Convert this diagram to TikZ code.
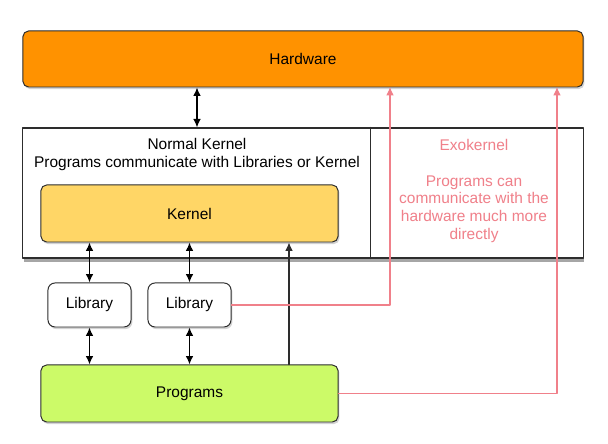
\documentclass[tikz,border=0pt]{standalone}
\usepackage{fontspec}
\setmainfont{Liberation Sans}
\usetikzlibrary{arrows.meta,shadows}
\definecolor{hwfill}{RGB}{255,146,0}
\definecolor{kernfill}{RGB}{255,214,102}
\definecolor{progfill}{RGB}{204,250,104}
\definecolor{boxline}{RGB}{45,45,45}
\definecolor{exopink}{RGB}{240,128,138}
\tikzset{
    lab/.style={
        font=\fontsize{11}{12.75}\selectfont
    }
}

\begin{document}
\begin{tikzpicture}[x=0.025cm,y=0.025cm, line cap=round, line join=round]

\tikzset{
  blk/.style={lab, draw=boxline, line width=0.7pt, rounded corners=4pt, inner sep=0pt,
    drop shadow={shadow xshift=1pt, shadow yshift=-1.5pt, opacity=0.35}},
  libbox/.style={blk, fill=white, rounded corners=5pt, minimum width=2.075cm, minimum height=1.1cm},
  wide/.style={minimum width=7.425cm, minimum height=1.425cm},
  dbl/.style={{Latex[length=6pt,width=5.5pt]}-{Latex[length=6pt,width=5.5pt]}, line width=1pt},
  one/.style={-{Latex[length=6pt,width=5.5pt]}, line width=0.8pt, draw=boxline},
  exo/.style={-{Latex[length=6pt,width=5.5pt]}, line width=0.8pt, draw=exopink},
}

\useasboundingbox (0,0) rectangle (608,444);

% boxes
\node[blk, fill=hwfill, minimum width=14cm, minimum height=1.4cm] (hw) at (303,385) {Hardware};
\node[lab, draw=boxline, fill=white, line width=0.8pt, minimum width=14cm, minimum height=3.25cm, inner sep=0pt,
  drop shadow={shadow xshift=1pt, shadow yshift=-2.5pt, opacity=0.7}] (os) at (303,251) {};
\draw[boxline, line width=0.7pt] (370,0 |- os.north) -- (370,0 |- os.south);
\node[blk, fill=kernfill, wide] (kern) at (189.5,230.5) {Kernel};
\node[libbox] (lib1) at (89.5,139) {Library};
\node[libbox] (lib2) at (189.5,139) {Library};
\node[blk, fill=progfill, wide] (prog) at (189.5,50.5) {Programs};

% texts
\node[lab, align=center] (normal) at (197,289.5) {Normal Kernel\\Programs communicate with Libraries or Kernel};
\node[lab, align=center, text=exopink] (exotxt) at (474,253) {Exokernel\\ \\Programs can\\communicate with the\\hardware much more\\directly};

% points where the pink lines meet the hardware
\coordinate (up1) at (390,357);
\coordinate (up2) at (557,357);
\coordinate (mid) at (289,0);

% kernel side arrows
\draw[dbl] (hw.south -| normal) -- (os.north -| normal);
\draw[dbl] (lib1.north) -- (lib1.north |- kern.south);
\draw[dbl] (lib2.north) -- (lib2.north |- kern.south);
\draw[dbl] (lib1.south) -- (lib1.south |- prog.north);
\draw[dbl] (lib2.south) -- (lib2.south |- prog.north);
\draw[one] (prog.north -| mid) -- (kern.south -| mid);

% exokernel lines
\draw[exo] (lib2.east) -| (up1);
\draw[exo] (prog.east) -| (up2);

\end{tikzpicture}
\end{document}
